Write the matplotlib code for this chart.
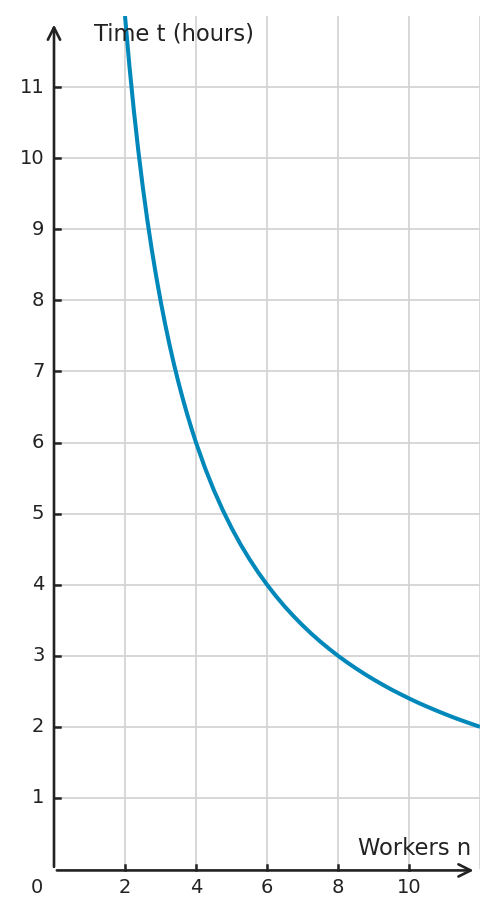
import matplotlib
matplotlib.use("Agg")
import matplotlib.pyplot as plt

# Data (time vs workers)
workers = [2.0, 2.125, 2.25, 2.375, 2.5, 2.625, 2.75, 2.875, 3.0, 3.125, 3.25, 3.375,
           3.5, 3.625, 3.75, 3.875, 4.0, 4.25, 4.5, 4.75, 5.0, 5.25, 5.5, 5.75, 6.0,
           6.25, 6.5, 6.75, 7.0, 7.25, 7.5, 7.75, 8.0, 8.25, 8.5, 8.75, 9.0, 9.25,
           9.5, 9.75, 10.0, 10.25, 10.5, 10.75, 11.0, 11.25, 11.5, 11.75, 12.0]
hours = [12.0, 11.294, 10.667, 10.105, 9.6, 9.143, 8.727, 8.348, 8.0, 7.68, 7.385, 7.111,
         6.857, 6.621, 6.4, 6.194, 6.0, 5.647, 5.333, 5.053, 4.8, 4.571, 4.364, 4.174, 4.0,
         3.84, 3.692, 3.556, 3.429, 3.31, 3.2, 3.097, 3.0, 2.909, 2.824, 2.743, 2.667,
         2.595, 2.526, 2.462, 2.4, 2.341, 2.286, 2.233, 2.182, 2.133, 2.087, 2.043, 2.0]
x_ticks = [2, 4, 6, 8, 10]
y_ticks = [1, 2, 3, 4, 5, 6, 7, 8, 9, 10, 11]
x_grid = [2, 4, 6, 8, 10, 12]
y_grid = [1, 2, 3, 4, 5, 6, 7, 8, 9, 10, 11]

W, H = 497, 917
fig = plt.figure(figsize=(W / 100, H / 100), dpi=100)
ax = fig.add_axes([54 / W, 1 - 869 / H, (480 - 54) / W, (869 - 16) / H])
ax.set_xlim(0, 12)
ax.set_ylim(0, 12)
for s in ax.spines.values():
    s.set_visible(False)
ax.set_xticks([])
ax.set_yticks([])

grid_c = "#d4d4d4"
for gx in x_grid:
    ax.axvline(gx, color=grid_c, lw=1.3, zorder=1)
for gy in y_grid:
    ax.axhline(gy, color=grid_c, lw=1.3, zorder=1)

ax.plot(workers, hours, color="#0088bb", lw=2.9, zorder=3,
        solid_capstyle="butt", solid_joinstyle="round")

axis_c = "#222222"
# axes with arrows
ax.annotate("", xy=(11.82, -0.02), xytext=(0.08, -0.02),
            arrowprops=dict(arrowstyle="->", color=axis_c, lw=1.9,
                            mutation_scale=22, shrinkA=0, shrinkB=0),
            annotation_clip=False, zorder=4)
ax.annotate("", xy=(0.0, 11.88), xytext=(0.0, 0.03),
            arrowprops=dict(arrowstyle="->", color=axis_c, lw=1.9,
                            mutation_scale=22, shrinkA=0, shrinkB=0),
            annotation_clip=False, zorder=4)

fs = 14
for t in x_ticks:
    ax.plot([t, t], [-0.02, 0.06], color=axis_c, lw=1.8, zorder=4, clip_on=False)
    ax.text(t, -0.26, str(t), ha="center", va="center", fontsize=fs, color=axis_c)
for t in y_ticks:
    ax.plot([0, 0.17], [t, t], color=axis_c, lw=1.8, zorder=4, clip_on=False)
    ax.text(-0.27, t, str(t), ha="right", va="center", fontsize=fs, color=axis_c)
ax.text(-0.47, -0.26, "0", ha="center", va="center", fontsize=fs, color=axis_c)

ax.text(1.12, 11.75, "Time t (hours)", ha="left", va="center", fontsize=16.3, color=axis_c)
ax.text(11.75, 0.29, "Workers n", ha="right", va="center", fontsize=16.3, color=axis_c)

fig.savefig("out.png", dpi=100)
